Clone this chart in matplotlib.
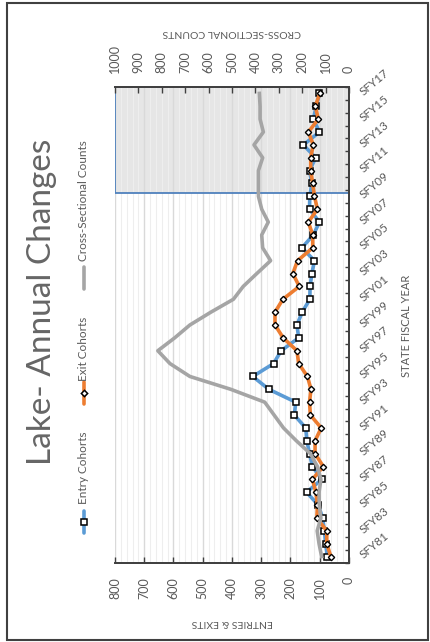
import matplotlib.pyplot as plt
import numpy as np
from matplotlib.patches import Rectangle
from matplotlib.lines import Line2D
from matplotlib.ticker import MultipleLocator

plt.rcParams['font.family'] = ['Lato', 'DejaVu Sans']

# fiscal years SFY81 .. SFY17
years = ['SFY81', 'SFY82', 'SFY83', 'SFY84', 'SFY85', 'SFY86', 'SFY87', 'SFY88',
         'SFY89', 'SFY90', 'SFY91', 'SFY92', 'SFY93', 'SFY94', 'SFY95', 'SFY96',
         'SFY97', 'SFY98', 'SFY99', 'SFY00', 'SFY01', 'SFY02', 'SFY03', 'SFY04',
         'SFY05', 'SFY06', 'SFY07', 'SFY08', 'SFY09', 'SFY10', 'SFY11', 'SFY12',
         'SFY13', 'SFY14', 'SFY15', 'SFY16', 'SFY17']

entry_cohorts = [74, 80, 84, 90, 105, 145, 93, 125, 135, 144, 148, 187, 182, 274,
                 329, 258, 232, 172, 178, 160, 134, 133, 127, 118, 161, 122, 101,
                 135, 134, 127, 135, 114, 156, 101, 122, 112, 101]
exit_cohorts = [62, 76, 76, 110, 108, 113, 125, 88, 116, 116, 95, 132, 135, 130,
                142, 172, 178, 225, 253, 253, 226, 170, 192, 176, 124, 124, 139,
                108, 118, 124, 131, 131, 122, 139, 105, 115, 100]
cross_sectional = [117, 128, 136, 120, 127, 128, 120, 135, 165, 225, 280, 320, 360,
                   505, 680, 765, 817, 745, 680, 590, 494, 452, 394, 335, 369, 373,
                   345, 373, 387, 387, 387, 369, 406, 366, 380, 380, 383]

BLUE = '#5B9BD5'
ORANGE = '#ED7D31'
GRAY = '#A5A5A5'
TXT = '#595959'
DARK = '#404040'

W, H = 431, 642
fig = plt.figure(figsize=(W / 100, H / 100), dpi=100)


def fx(x):
    return x / W


def fy(y):
    return 1 - y / H


# chart is laid out sideways: values run right-to-left, years bottom-to-top
ax = fig.add_axes([fx(115), fy(563), 234 / W, 476 / H])
idx = np.arange(len(years))

# recent-years band: fill under the grid, outline on top of it
ax.axhspan(28.25, 36.5, facecolor='#E6E6E6', edgecolor='none', zorder=0.3)
ax.axhspan(28.25, 36.5, facecolor='none', edgecolor='#4F81BD', lw=1.3, zorder=2)

ax.plot(entry_cohorts, idx, color=BLUE, lw=2.6, marker='s', ms=5,
        mfc='white', mec='black', mew=1.1, zorder=4)
ax.plot(exit_cohorts, idx, color=ORANGE, lw=2.6, marker='D', ms=3.2,
        mfc='white', mec='black', mew=1.0, zorder=5)

ax.set_xlim(800, 0)
ax.set_ylim(-0.5, 36.5)
ax.set_xticks(range(0, 801, 100))
ax.xaxis.set_minor_locator(MultipleLocator(20))
ax.set_axisbelow(True)
ax.grid(axis='x', which='major', color='#D9D9D9', lw=1.0)
ax.grid(axis='x', which='minor', color='#EEEEEE', lw=0.8)
ax.tick_params(axis='x', which='major', direction='in', length=4, width=1,
               color=DARK, labelrotation=90, labelsize=9, labelcolor=TXT, pad=10)
ax.tick_params(axis='x', which='minor', length=0)

ax.yaxis.tick_right()
ax.set_yticks(idx[::2])
ax.set_yticklabels(years[::2], rotation=40, ha='left', va='center')
plt.setp(ax.get_yticklabels(), rotation_mode='anchor')
ax.set_yticks(np.arange(-0.5, 37, 1), minor=True)
ax.tick_params(axis='y', which='major', length=0, labelsize=8.5,
               labelcolor=TXT, pad=9)
ax.tick_params(axis='y', which='minor', direction='in', length=3, width=1,
               color=DARK, right=True, left=False)

ax.spines['left'].set_visible(False)
for s in ('bottom', 'top', 'right'):
    ax.spines[s].set_color(DARK)
    ax.spines[s].set_linewidth(1.3)

# secondary scale for the cross-sectional counts
ax2 = ax.twiny()
ax2.plot(cross_sectional, idx, color=GRAY, lw=2.6, zorder=3)
ax2.set_xlim(1000, 0)
ax2.set_xticks(range(0, 1001, 100))
ax2.tick_params(axis='x', direction='in', length=4, width=1, color=DARK,
                labelrotation=90, labelsize=9, labelcolor=TXT, pad=10)
ax2.spines['left'].set_visible(False)
for s in ('bottom', 'top', 'right'):
    ax2.spines[s].set_color(DARK)
    ax2.spines[s].set_linewidth(1.3)

# axis titles
fig.text(fx(232), fy(623), 'ENTRIES & EXITS', rotation=180, ha='center',
         va='center', fontsize=7.5, color=TXT)
fig.text(fx(232), fy(32), 'CROSS-SECTIONAL COUNTS', rotation=180, ha='center',
         va='center', fontsize=7.5, color=TXT)
fig.text(fx(407), fy(326), 'STATE FISCAL YEAR', rotation=90, ha='center',
         va='center', fontsize=8, color=TXT)
fig.text(fx(42), fy(302), 'Lake- Annual Changes', rotation=90, ha='center',
         va='center', fontsize=24, color='#666666')

# legend keys
legend_items = [
    ('Entry Cohorts', BLUE, 's', 5, 522, 504),
    ('Exit Cohorts', ORANGE, 'D', 3.2, 393, 381),
    ('Cross-Sectional Counts', GRAY, None, 0, 278, 261),
]
for label, color, marker, ms, cy, ty in legend_items:
    fig.add_artist(Line2D([fx(84), fx(84)], [fy(cy + 11), fy(cy - 11)],
                          color=color, lw=2.6, solid_capstyle='round',
                          transform=fig.transFigure))
    if marker:
        fig.add_artist(Line2D([fx(84)], [fy(cy)], marker=marker, ms=ms,
                              mfc='white', mec='black', mew=1.1,
                              transform=fig.transFigure))
    fig.text(fx(84), fy(ty), label, rotation=90, ha='center', va='bottom',
             fontsize=8.5, color=TXT)

# outer frame
fig.add_artist(Rectangle((fx(7), fy(640)), (428 - 7) / W, (640 - 3) / H,
                         fill=False, ec=DARK, lw=1.5, transform=fig.transFigure))

fig.savefig('out.png', dpi=100)
